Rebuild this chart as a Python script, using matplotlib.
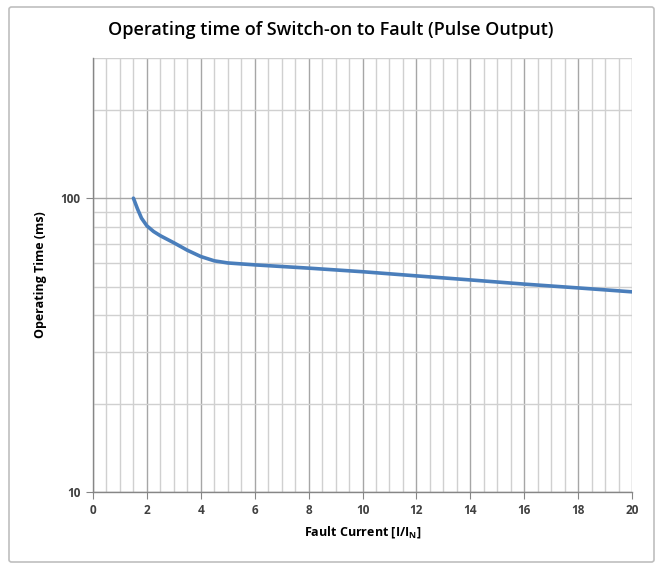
import numpy as np
import matplotlib.pyplot as plt
from matplotlib.patches import FancyBboxPatch
from matplotlib.ticker import FixedLocator, NullFormatter

# ======================
# DATA
# ======================
fault_current = [1.5, 1.65, 1.8, 2.0, 2.25, 2.5, 3.0, 3.5, 4.0, 4.5, 5.0, 6.0, 8.0, 10.0, 12.0, 14.0, 16.0, 18.0, 20.0]
operating_time = [100, 92, 85.5, 80.5, 77, 74.5, 70.5, 66.5, 63.3, 61.2, 60.2, 59.3, 57.8, 56.2, 54.4, 52.7, 51.0, 49.5, 48.0]

x_ticks = list(range(0, 21, 2))
y_ticks = [10, 100]

# ======================
# PLOT
# ======================
plt.rcParams['font.family'] = ['Open Sans', 'DejaVu Sans']

fig = plt.figure(figsize=(6.62, 5.68), dpi=100)
ax = fig.add_axes([93 / 662, 1 - 492 / 568, (632 - 93) / 662, (492 - 58) / 568])

# outer frame
frame = FancyBboxPatch((9 / 662, 6 / 568), 645 / 662, 555 / 568,
                       boxstyle="round,pad=0,rounding_size=0.004",
                       transform=fig.transFigure, fill=False,
                       edgecolor="#bfbfbf", linewidth=1.2)
fig.patches.append(frame)

ax.plot(fault_current, operating_time, color="#4a7ebb", linewidth=2.6,
        solid_capstyle="round", solid_joinstyle="round")

ax.set_yscale("log")
ax.set_xlim(0, 20)
ax.set_ylim(10, 300)

ax.set_xticks(x_ticks)
ax.set_xticks(np.arange(0, 20.01, 0.5), minor=True)
ax.yaxis.set_major_locator(FixedLocator(y_ticks))
ax.yaxis.set_minor_locator(FixedLocator([20, 30, 40, 50, 60, 70, 80, 90, 200, 300]))
ax.yaxis.set_minor_formatter(NullFormatter())
ax.set_yticklabels([str(v) for v in y_ticks])

ax.grid(True, which="major", color="#a6a6a6", linewidth=1.0)
ax.grid(True, which="minor", color="#d0d0d0", linewidth=1.0)
ax.set_axisbelow(True)

for side in ["top", "right"]:
    ax.spines[side].set_visible(False)
for side in ["left", "bottom"]:
    ax.spines[side].set_color("#868686")
    ax.spines[side].set_linewidth(1.0)

ax.tick_params(which="major", length=5, color="#868686", labelsize=8.5, pad=4)
ax.tick_params(which="minor", length=0)
for lbl in ax.get_xticklabels() + ax.get_yticklabels():
    lbl.set_fontweight("bold")
    lbl.set_color("#404040")

ax.set_xlabel("Fault Current [I/I$_\\mathregular{N}$]", fontsize=9, fontweight="bold", labelpad=5)
ax.set_ylabel("Operating Time (ms)", fontsize=9, fontweight="bold", labelpad=10)
fig.text(0.5, 1 - 30 / 568, "Operating time of Switch-on to Fault (Pulse Output)",
         ha="center", va="center", fontsize=13, fontweight="semibold")

fig.savefig("out.png", dpi=100)
